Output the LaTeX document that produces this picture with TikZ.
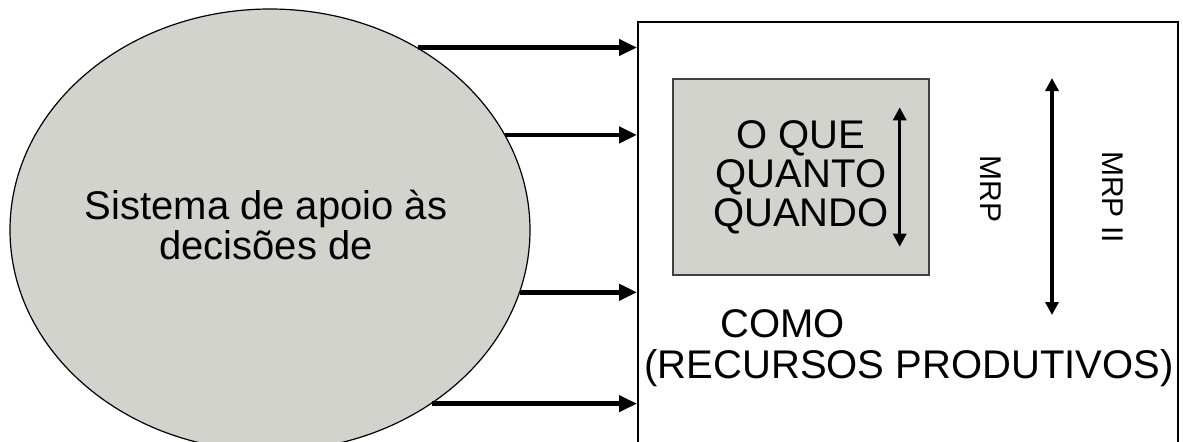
\documentclass[tikz,border=0pt]{standalone}
\usepackage{fontspec}
\setmainfont{Liberation Sans}
\usepackage{xcolor}
\usetikzlibrary{shapes, arrows.meta, positioning, calc}

\definecolor{cinza}{RGB}{211,211,205}

\tikzset{
	seta/.style={line width=2.2pt, -{Triangle[length=9pt, width=8pt]}},
	setadupla/.style={line width=1.6pt, {Triangle[length=6.5pt, width=6.5pt]}-{Triangle[length=6.5pt, width=6.5pt]}},
	texto/.style={font=\fontsize{20}{19.5}\selectfont, align=center, inner sep=0pt},
	rotulo/.style={font=\fontsize{15}{15}\selectfont, rotate=-90, inner sep=0pt}
}

\begin{document}
\begin{tikzpicture}[x=0.5pt, y=-0.5pt]
		\useasboundingbox (0,0) rectangle (1183,441);
		\clip (0,0) rectangle (1183,441);

		% sistema de apoio
		\node[ellipse, draw, line width=0.6pt, fill=cinza, minimum width=260pt, minimum height=221pt, inner sep=0pt] (apoio) at (270,230) {};
		\node[texto, font=\fontsize{20}{17.5}\selectfont] (apoiotxt) at (266,225) {Sistema de apoio às\\decisões de};

		% recursos produtivos
		\node[draw, line width=0.8pt, minimum width=270pt, minimum height=225pt, anchor=north west] (recursos) at (637,21) {};
		\node[draw=black!75, line width=0.7pt, fill=cinza, minimum width=128pt, minimum height=98pt, texto] (quadro) at (801,177) {O QUE\\QUANTO\\QUANDO};

		\node[rotulo] (mrp) at (991,189) {MRP};
		\node[rotulo] (mrpii) at (1113,197) {MRP II};
		\node[texto, anchor=base west] (como) at (720,337) {COMO};
		\node[texto, anchor=base] (produtivos) at (909,378) {(RECURSOS PRODUTIVOS)};

		\coordinate (q1) at ([xshift=-15pt, yshift=-14.5pt]quadro.north east);
		\coordinate (q2) at ([xshift=-15pt, yshift=14.5pt]quadro.south east);
		\coordinate (m1) at (1052,78);
		\coordinate (m2) at (1052,315);

		\draw[seta] (apoio.51) to (apoio.51 -| recursos.west);
		\draw[seta] (apoio.22) to (apoio.22 -| recursos.west);
		\draw[seta] (apoio.346) to (apoio.346 -| recursos.west);
		\draw[seta] (apoio.313) to (apoio.313 -| recursos.west);

		\draw[setadupla] (q1) to (q2);
		\draw[setadupla] (m1) to (m2);

	\end{tikzpicture}
\end{document}
